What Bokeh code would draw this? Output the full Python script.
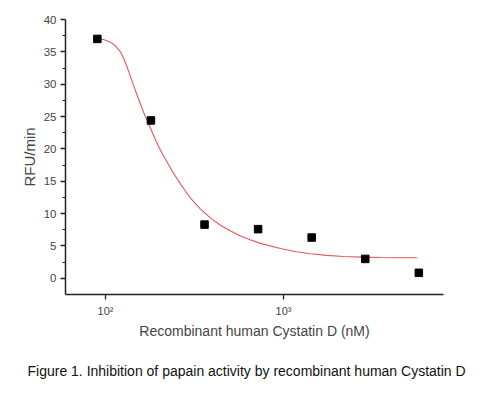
from bokeh.plotting import figure
from bokeh.models import FixedTicker, Title, Range1d
from bokeh.embed import file_html
from bokeh.resources import INLINE

# Measured data (Cystatin D concentration in nM, RFU/min)
conc_nm = [90, 180, 360, 720, 1440, 2880, 5760]
rfu_min = [37.0, 24.4, 8.3, 7.6, 6.3, 3.0, 0.85]

# Fitted curve
fit_x = [89.8, 97.5, 106.7, 114.0, 121.4, 127.0, 132.4, 138.0, 144.2, 150.5, 157.3,
         164.0, 171.5, 179.0, 189.0, 199.3, 212.0, 226.8, 244.0, 263.8, 281.0, 300.3,
         341.9, 390.0, 442.7, 505.0, 573.4, 650.0, 742.6, 961.9, 1180, 1418, 1750,
         2174, 2750, 3506, 4400, 5637]
fit_y = [37.0, 36.9, 36.5, 35.9, 35.0, 33.9, 32.6, 31.2, 29.7, 28.3, 26.9,
         25.6, 24.4, 23.2, 21.7, 20.3, 18.9, 17.5, 16.0, 14.6, 13.5, 12.4,
         10.7, 9.3, 8.2, 7.3, 6.55, 5.95, 5.4, 4.6, 4.1, 3.8, 3.55,
         3.38, 3.28, 3.22, 3.19, 3.17]

y_ticks = [0, 5, 10, 15, 20, 25, 30, 35, 40]
y_minor = [2.5, 7.5, 12.5, 17.5, 22.5, 27.5, 32.5, 37.5]
x_ticks = [100, 1000]
x_tick_labels = {100: "10²", 1000: "10³"}
caption_text = "Figure 1. Inhibition of papain activity by recombinant human Cystatin D"

FONT = "Liberation Sans"

p = figure(width=477, height=397, x_axis_type="log", output_backend="svg",
           toolbar_location=None, x_range=Range1d(59.6, 7925), y_range=Range1d(-2.5, 40))
p.min_border_left = 65
p.min_border_right = 34
p.min_border_top = 19
p.min_border_bottom = 102
p.outline_line_color = None
p.xgrid.visible = False
p.ygrid.visible = False
p.background_fill_color = "white"
p.border_fill_color = "white"

p.line(fit_x, fit_y, line_color="#e8555c", line_width=1.1)
p.scatter(conc_nm, rfu_min, marker="square", size=7.5, color="black")

xa = p.xaxis[0]
xa.ticker = FixedTicker(ticks=x_ticks, minor_ticks=[])
xa.major_label_overrides = x_tick_labels
xa.axis_label = "Recombinant human Cystatin D (nM)"
xa.axis_label_text_font = FONT
xa.axis_label_text_font_size = "14px"
xa.axis_label_text_font_style = "normal"
xa.axis_label_standoff = 3
xa.major_label_text_font = FONT
xa.major_label_text_font_size = "11px"
xa.major_label_standoff = 5
xa.major_tick_out = 5
xa.major_tick_in = 0
xa.minor_tick_out = 0
xa.minor_tick_in = 0
xa.axis_line_width = 1.5
xa.axis_line_color = "#222222"
xa.major_tick_line_color = "#222222"
xa.major_tick_line_width = 1.3

ya = p.yaxis[0]
ya.ticker = FixedTicker(ticks=y_ticks, minor_ticks=y_minor)
ya.axis_label = "RFU/min"
ya.axis_label_text_font = FONT
ya.axis_label_text_font_size = "15px"
ya.axis_label_text_font_style = "normal"
ya.axis_label_standoff = 3
ya.major_label_text_font = FONT
ya.major_label_text_font_size = "11.5px"
ya.major_label_standoff = 4
ya.major_tick_out = 5
ya.major_tick_in = 0
ya.minor_tick_out = 3
ya.minor_tick_in = 0
ya.axis_line_width = 1.5
ya.axis_line_color = "#222222"
ya.major_tick_line_color = "#222222"
ya.minor_tick_line_color = "#222222"
ya.major_tick_line_width = 1.3

caption = Title(text=caption_text,
                text_font=FONT, text_font_size="14px", text_font_style="normal",
                align="left", offset=-38, text_color="#111111", standoff=38)
p.add_layout(caption, "below")

open("out.html", "w").write(file_html(p, INLINE))
